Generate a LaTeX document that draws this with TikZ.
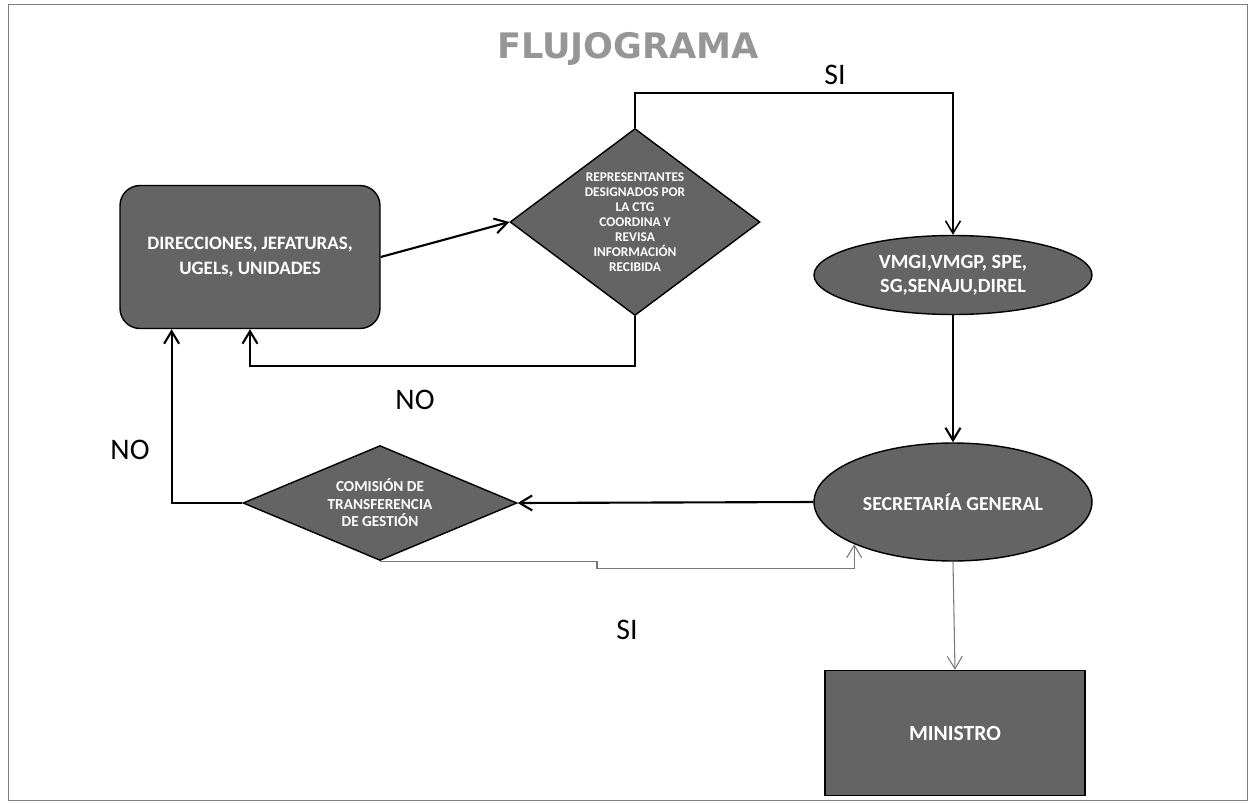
\documentclass[tikz,border=0pt]{standalone}
\usepackage{fontspec}
\setmainfont{Carlito}
\newfontfamily\titlefont{DejaVu Sans}
\usetikzlibrary{shapes.geometric,arrows.meta,calc}

\definecolor{boxgray}{RGB}{100,100,100}
\definecolor{titlegray}{RGB}{150,150,150}
\definecolor{linegray}{RGB}{120,120,120}

\tikzset{
  box/.style={draw=black, thick, fill=boxgray, text=white, font=\bfseries, align=center},
  flow/.style={line width=1.2pt, -{Straight Barb[length=2.5mm,width=3mm]}},
  thinflow/.style={linegray, semithick, -{Straight Barb[length=2.5mm,width=3mm]}},
  lbl/.style={font=\fontsize{17}{20}\selectfont}
}

\begin{document}
\begin{tikzpicture}[x=0.02cm, y=-0.02cm]

        \useasboundingbox (0,0) rectangle (1255,805);
        \draw[gray] (8,4) rectangle (1247,800);

        \node[font=\titlefont\bfseries\fontsize{20}{24}\selectfont, text=titlegray] (title) at (628,49){FLUJOGRAMA};

        % nodos
        \node[box, rounded corners=0.4cm, minimum width=5.2cm, minimum height=2.86cm,
              font=\bfseries\fontsize{10.8}{14}\selectfont] (dir) at (250,257){DIRECCIONES, JEFATURAS,\\UGELs, UNIDADES};
        \node[box, diamond, inner sep=0pt, shape aspect=1.34, minimum width=5cm, minimum height=3.74cm,
              font=\bfseries\fontsize{7.6}{8.5}\selectfont] (rev) at (635,222){REPRESENTANTES\\DESIGNADOS POR\\LA CTG\\COORDINA Y\\REVISA\\INFORMACIÓN\\RECIBIDA};
        \node[box, ellipse, inner sep=0pt, minimum width=5.56cm, minimum height=1.58cm,
              font=\bfseries\fontsize{11.5}{13.5}\selectfont] (vmg) at (953,275){VMGI,VMGP, SPE,\\SG,SENAJU,DIREL};
        \node[box, ellipse, inner sep=0pt, minimum width=5.56cm, minimum height=2.36cm,
              font=\bfseries\fontsize{11.3}{14}\selectfont] (sec) at (953,502){SECRETARÍA GENERAL};
        \node[box, diamond, inner sep=0pt, shape aspect=2.4, minimum width=5.48cm, minimum height=2.3cm,
              font=\bfseries\fontsize{8.7}{10}\selectfont] (com) at (380,503){COMISIÓN DE\\TRANSFERENCIA\\DE GESTIÓN};
        \node[box, minimum width=5.2cm, minimum height=2.5cm,
              font=\bfseries\fontsize{12.3}{14}\selectfont] (mini) at (955,733){MINISTRO};

        % conectores
        \draw[flow] (dir.east) -- (rev.west);
        \draw[flow, line width=0.9pt] (rev.north) -- ++(0,-35) -| (vmg.north);
        \draw[flow] (vmg.south) -- (sec.north);
        \draw[flow] (rev.south) -- ++(0,50) -| (dir.south);
        \draw[flow] (sec.west) -- (com.east);
        \draw[flow] (com.west) -| ($(dir.south west)!0.2!(dir.south east)$);
        \draw[thinflow] (com.south) -- ++(217,0) -- ++(0,7) -| (sec.south west);
        \draw[thinflow] (sec.south) -- (mini.north);

        \node[lbl] (si1) at (835,75){SI};
        \node[lbl] (no1) at (415,400){NO};
        \node[lbl] (no2) at (130,450){NO};
        \node[lbl] (si2) at (627,630){SI};

\end{tikzpicture}
\end{document}
